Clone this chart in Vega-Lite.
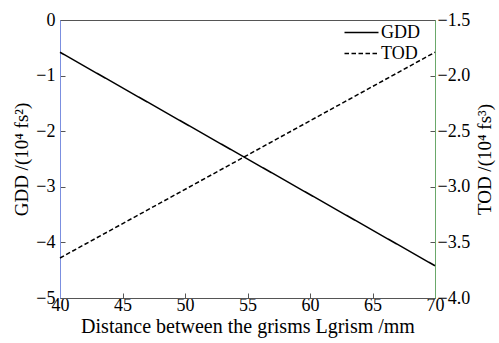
{
  "$schema": "https://vega.github.io/schema/vega-lite/v6.json",
  "width": 375,
  "height": 278,
  "autosize": {"type": "none"},
  "padding": {"left": 60, "top": 20, "right": 64, "bottom": 45},
  "background": "white",
  "config": {
    "font": "Liberation Serif",
    "view": {"stroke": "#555555", "strokeWidth": 1},
    "axis": {"labelFont": "Liberation Serif", "titleFont": "Liberation Serif", "labelFontSize": 18, "titleFontSize": 19, "titleFontWeight": "normal", "labelColor": "black", "titleColor": "black", "grid": false, "tickColor": "#555555", "tickSize": -5, "domainColor": "#555555"},
    "legend": {"labelFont": "Liberation Serif", "labelFontSize": 18, "labelColor": "black"}
  },
  "data": {"values": [
    {"x": 40, "value": -0.58, "series": "GDD"},
    {"x": 70, "value": -4.42, "series": "GDD"},
    {"x": 40, "value": -3.64, "series": "TOD"},
    {"x": 70, "value": -1.79, "series": "TOD"}
  ]},
  "encoding": {
    "x": {"field": "x", "type": "quantitative", "scale": {"domain": [40, 70], "nice": false},
      "axis": {"values": [40, 45, 50, 55, 60, 65, 70], "title": "Distance between the grisms Lgrism /mm", "titleFontSize": 20, "labelPadding": 3, "titlePadding": 2, "labelFlush": false}}
  },
  "layer": [
    {
      "transform": [{"filter": "datum.series == 'GDD'"}],
      "mark": {"type": "line", "color": "black", "strokeWidth": 1.5},
      "encoding": {
        "y": {"field": "value", "type": "quantitative", "scale": {"domain": [-5, 0], "nice": false},
          "axis": {"orient": "left", "values": [-5, -4, -3, -2, -1, 0], "format": "d", "title": "GDD /(10⁴ fs²)", "domainColor": "#7b8fe0", "labelPadding": 10, "titlePadding": 4}},
        "strokeDash": {"field": "series", "type": "nominal", "scale": {"domain": ["GDD", "TOD"], "range": [[1, 0], [4.5, 2.5]]},
          "legend": {"title": null, "orient": "none", "legendX": 292, "legendY": 3, "symbolType": "M-2,0H2", "symbolSize": 289, "symbolStrokeColor": "black", "symbolStrokeWidth": 1.5, "labelOffset": 10, "rowPadding": 2, "padding": 0}}
      }
    },
    {
      "transform": [{"filter": "datum.series == 'TOD'"}],
      "mark": {"type": "line", "color": "black", "strokeWidth": 1.5},
      "encoding": {
        "y": {"field": "value", "type": "quantitative", "scale": {"domain": [-4, -1.5], "nice": false},
          "axis": {"orient": "right", "values": [-4, -3.5, -3, -2.5, -2, -1.5], "format": ".1f", "title": "TOD /(10⁴ fs³)", "titleAngle": 270, "titleBaseline": "top", "domainColor": "#6aa86a", "labelPadding": 7, "titlePadding": 6}},
        "strokeDash": {"field": "series", "type": "nominal"}
      }
    }
  ],
  "resolve": {"scale": {"y": "independent"}}
}
